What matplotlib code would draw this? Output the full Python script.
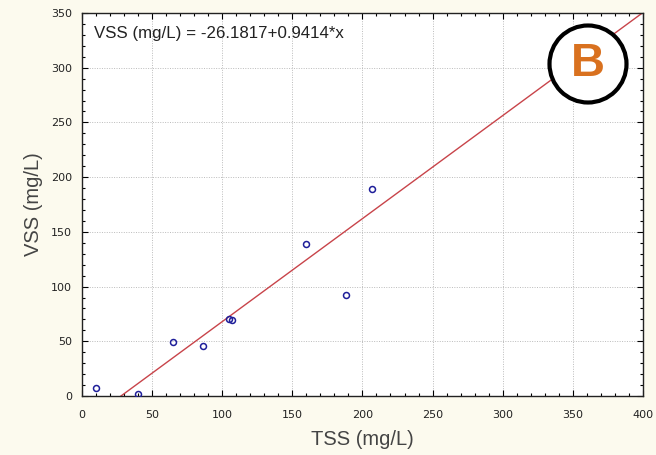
import numpy as np
import matplotlib
matplotlib.use('Agg')
import matplotlib.pyplot as plt
from matplotlib.patches import Circle
from matplotlib.ticker import MultipleLocator

plt.rcParams['font.family'] = ['Liberation Sans', 'DejaVu Sans']

# data
tss = [10, 40, 65, 86, 105, 107, 160, 188, 207]
vss = [7, 2, 49, 46, 70, 69, 139, 92, 189]
intercept = -26.1817
slope = 0.9414

bgcolor = '#fcfaee'
fig = plt.figure(figsize=(6.56, 4.55), dpi=100)
fig.patch.set_facecolor(bgcolor)
ax = fig.add_axes([0.125, 0.1297, 0.855, 0.8417])
ax.set_facecolor('white')

xx = np.array([0, 400])
ax.plot(xx, intercept + slope * xx, color='#c8444a', lw=1.0, zorder=2)
ax.plot(tss, vss, 'o', ms=4.3, mfc='none', mec='#1f1f9a', mew=1.1, zorder=3)

ax.set_xlim(0, 400)
ax.set_ylim(0, 350)
ax.xaxis.set_major_locator(MultipleLocator(50))
ax.yaxis.set_major_locator(MultipleLocator(50))
ax.xaxis.set_minor_locator(MultipleLocator(10))
ax.yaxis.set_minor_locator(MultipleLocator(10))
ax.tick_params(which='both', direction='in', top=True, right=True,
               labelsize=8, labelcolor='#222222', width=0.8)
ax.tick_params(which='major', length=4, pad=7)
ax.tick_params(axis='x', which='major', pad=10)
ax.tick_params(which='minor', length=2.5)
for lbl in ax.get_xticklabels() + ax.get_yticklabels():
    lbl.set_family('DejaVu Sans')
ax.grid(True, which='major', ls=(0, (1, 1.5)), color='#bbbbbb', lw=0.7)
for s in ax.spines.values():
    s.set_linewidth(1.0)
    s.set_color('#222222')

ax.set_xlabel('TSS (mg/L)', fontsize=14.5, color='#444444', labelpad=7)
ax.set_ylabel('VSS (mg/L)', fontsize=14.5, color='#444444', labelpad=6)

ax.text(0.022, 0.965, 'VSS (mg/L) = -26.1817+0.9414*x', transform=ax.transAxes,
        ha='left', va='top', fontsize=12.2, color='#222222')

# circled "B" badge
circ = Circle((588, 455 - 64), 38.5, transform=None, facecolor='white',
              edgecolor='black', lw=3, zorder=5)
fig.patches.append(circ)
fig.text(588 / 656, (455 - 64) / 455, 'B', ha='center', va='center',
         fontsize=34, fontweight='bold', color='#d9711f', zorder=6)

fig.savefig('out.png', dpi=100, facecolor=bgcolor)
